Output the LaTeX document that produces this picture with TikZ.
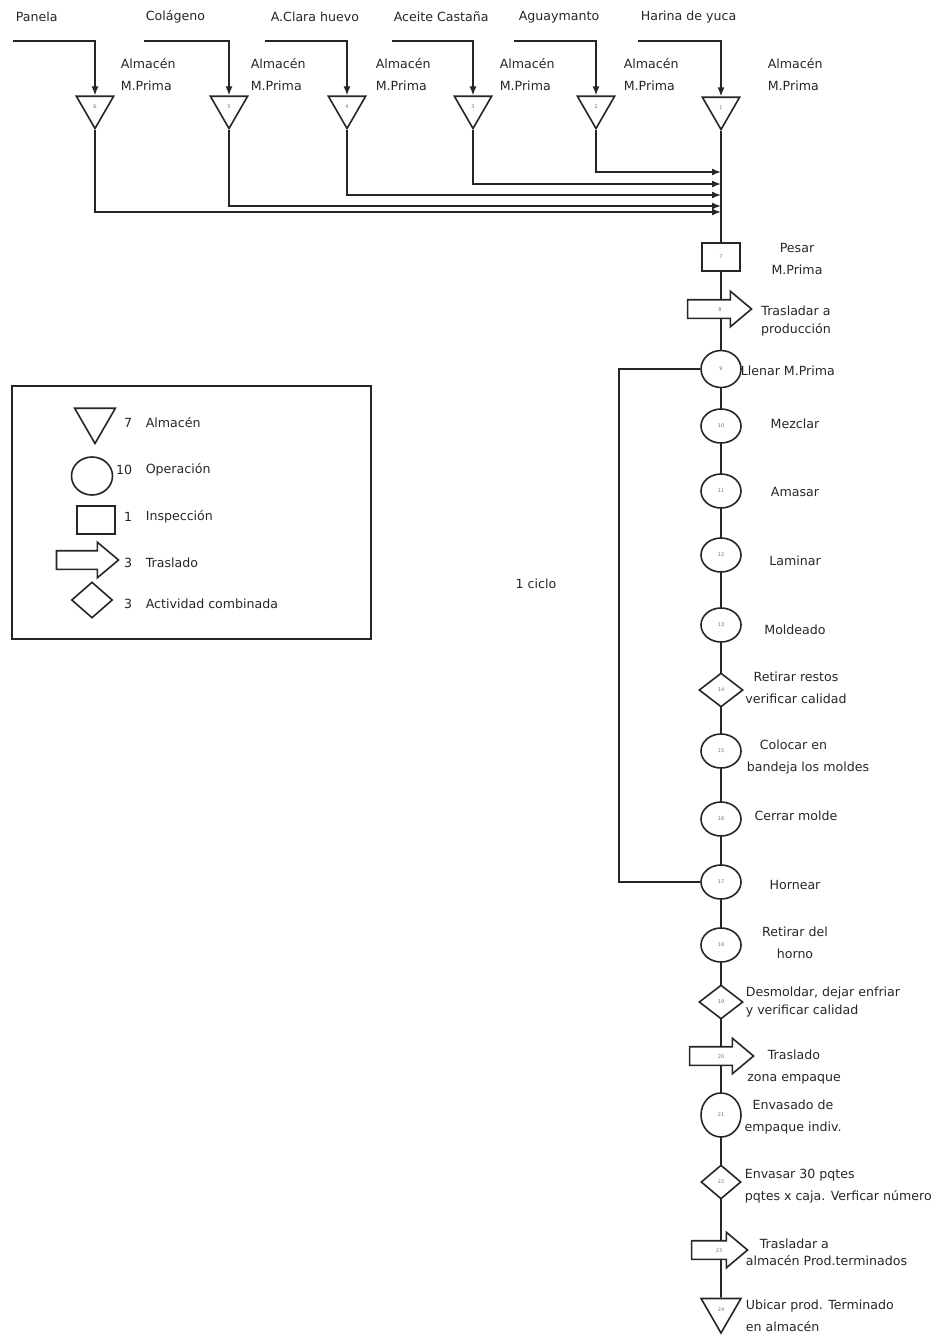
\documentclass[tikz,border=0pt]{standalone}
\usepackage{fontspec}
\setmainfont{DejaVu Sans}
\usetikzlibrary{arrows.meta,shapes.geometric,shapes.arrows,backgrounds}

\begin{document}
\begin{tikzpicture}[x=1pt,y=-1pt,line width=1.6pt,color=black!85,
  every node/.style={font=\fontsize{12.6}{22}\selectfont,inner sep=0pt},
  num/.style={font=\fontsize{5}{6}\selectfont,text=black!55,draw,fill=white},
  alm/.style={num,regular polygon,regular polygon sides=3,shape border rotate=180,minimum size=43pt},
  ope/.style={num,ellipse,minimum width=40pt,minimum height=34pt},
  ins/.style={num,rectangle,minimum width=38pt,minimum height=28pt},
  tra/.style={num,single arrow,single arrow head extend=8.5pt,single arrow tip angle=80,
    minimum height=64pt,minimum width=34pt,text height=5pt,text depth=0pt,inner ysep=6pt,inner xsep=0pt},
  com/.style={num,diamond,minimum width=44pt,minimum height=34pt},
  flecha/.style={-{Latex[length=9pt,width=7pt]}},
  txt/.style={align=center},
  txl/.style={anchor=west,align=left}]
\useasboundingbox (0,0) rectangle (931,1338);

\node[txl] (mp6) at (15,17) {Panela};
\node[txl] (mp5) at (145,17) {Colágeno};
\node[txl] (mp4) at (270,17) {A.Clara huevo};
\node[txl] (mp3) at (393,17) {Aceite Castaña};
\node[txl] (mp2) at (518,17) {Aguaymanto};
\node[txl] (mp1) at (640,17) {Harina de yuca};

\node[alm] (a6) at (95,107) {6};
\node[alm] (a5) at (229,107) {5};
\node[alm] (a4) at (347,107) {4};
\node[alm] (a3) at (473,107) {3};
\node[alm] (a2) at (596,107) {2};
\node[alm] (a1) at (721,108) {1};

\node[txl] (m6) at (120,75) {Almacén\\M.Prima};
\node[txl] (m5) at (250,75) {Almacén\\M.Prima};
\node[txl] (m4) at (375,75) {Almacén\\M.Prima};
\node[txl] (m3) at (499,75) {Almacén\\M.Prima};
\node[txl] (m2) at (623,75) {Almacén\\M.Prima};
\node[txl] (m1) at (767,75) {Almacén\\M.Prima};

\coordinate (e6) at (13,41);
\coordinate (e5) at (144,41);
\coordinate (e4) at (265,41);
\coordinate (e3) at (392,41);
\coordinate (e2) at (514,41);
\coordinate (e1) at (638,41);
\draw[flecha] (e6) -| (a6);
\draw[flecha] (e5) -| (a5);
\draw[flecha] (e4) -| (a4);
\draw[flecha] (e3) -| (a3);
\draw[flecha] (e2) -| (a2);
\draw[flecha] (e1) -| (a1);

\coordinate (j2) at (721,172);
\coordinate (j3) at (721,184);
\coordinate (j4) at (721,195);
\coordinate (j5) at (721,206);
\coordinate (j6) at (721,212);
\draw[flecha] (a2) |- (j2);
\draw[flecha] (a3) |- (j3);
\draw[flecha] (a4) |- (j4);
\draw[flecha] (a5) |- (j5);
\draw[flecha] (a6) |- (j6);

\node[ins] (p7) at (721,257) {7};
\node[tra] (t8) at (714,309) {\hspace*{12pt}8};
\node[ope,minimum height=37pt] (o9) at (721,369) {9};
\node[ope] (o10) at (721,426) {10};
\node[ope] (o11) at (721,491) {11};
\node[ope] (o12) at (721,555) {12};
\node[ope] (o13) at (721,625) {13};
\node[com] (d14) at (721,690) {14};
\node[ope] (o15) at (721,751) {15};
\node[ope] (o16) at (721,819) {16};
\node[ope] (o17) at (721,882) {17};
\node[ope] (o18) at (721,945) {18};
\node[com] (d19) at (721,1002) {19};
\node[tra] (t20) at (716,1056) {\hspace*{10pt}20};
\node[ope,minimum height=44pt] (o21) at (721,1115) {21};
\node[com,minimum width=40pt] (d22) at (721,1182) {22};
\node[tra,minimum height=56pt] (t23) at (714,1250) {\hspace*{10pt}23};
\node[alm,minimum size=46pt] (s24) at (721,1310) {24};

\begin{scope}[on background layer]
\draw[line width=1.6pt,black!85] (a1) -- (s24);
\end{scope}

\node[txt] (l7) at (797,259) {Pesar\\M.Prima};
\node[txt] (l8) at (796,321) {Trasladar a\\[-4pt]producción};
\node[txl] (l9) at (740,371) {Llenar M.Prima};
\node (l10) at (795,424) {Mezclar};
\node (l11) at (795,492) {Amasar};
\node (l12) at (795,561) {Laminar};
\node (l13) at (795,630) {Moldeado};
\node[txt] (l14) at (796,688) {Retirar restos\\verificar calidad};
\node[txl] (l15) at (746,757) {\hspace*{13pt}Colocar en\\bandeja los moldes};
\node (l16) at (796,816) {Cerrar molde};
\node (l17) at (795,885) {Hornear};
\node[txt] (l18) at (795,943) {Retirar del\\horno};
\node[txl] (l19) at (745,1002) {Desmoldar, dejar enfriar\\[-4pt]y verificar calidad};
\node[txt] (l20) at (794,1067) {Traslado\\zona empaque};
\node[txt] (l21) at (793,1117) {Envasado de\\empaque indiv.};
\node[txl] (l22) at (744,1186) {Envasar 30 pqtes\\pqtes x caja. Verficar número};
\node[txl] (l23) at (745,1252) {\hspace*{14pt}Trasladar a\\[-5pt]almacén Prod.terminados};
\node[txl] (l24) at (745,1316) {Ubicar prod. Terminado\\en almacén};

\coordinate (c1) at (619,369);
\coordinate (c2) at (619,882);
\draw (o9) -- (c1) -- (c2) -- (o17);
\node (ciclo) at (536,584) {1 ciclo};

\draw (12,386) rectangle (371,639);
\node[alm,minimum size=47pt] (ls) at (95,420) {};
\node[ope,minimum width=41pt,minimum height=38pt] (lo) at (92,476) {};
\node[ins] (lp) at (96,520) {};
\node[tra,minimum height=62pt] (lt) at (82,560) {};
\node[com,minimum width=41pt,minimum height=36pt] (ld) at (92,600) {};
\node[anchor=east] (n1) at (133,423) {7};
\node[anchor=east] (n2) at (133,470) {10};
\node[anchor=east] (n3) at (133,517) {1};
\node[anchor=east] (n4) at (133,563) {3};
\node[anchor=east] (n5) at (133,604) {3};
\node[txl] (k1) at (145,423) {Almacén};
\node[txl] (k2) at (145,470) {Operación};
\node[txl] (k3) at (145,517) {Inspección};
\node[txl] (k4) at (145,563) {Traslado};
\node[txl] (k5) at (145,604) {Actividad combinada};
\end{tikzpicture}
\end{document}
